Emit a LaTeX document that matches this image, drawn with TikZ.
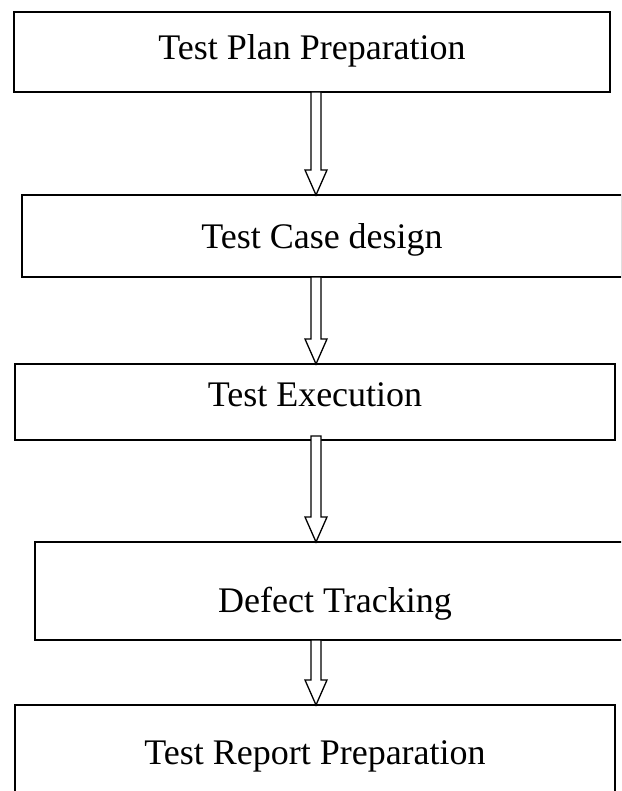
\documentclass[tikz,border=0pt]{standalone}
\usepackage{fontspec}
\setmainfont{Liberation Serif}
\usetikzlibrary{calc}

\tikzset{
	stagebox/.style={draw, line width=1.8pt, minimum width=600pt, inner sep=0pt, outer sep=0pt,
		text depth=0pt, font=\fontsize{36}{42}\selectfont},
	hollowarrow/.style={draw, line width=1.3pt, fill=white, line join=miter},
}

% hollow block arrow between two boxes, on the common axis
\newcommand{\blockarrow}[3][0]{%
	\draw[hollowarrow] ($(#2.south -| axis)+(-5,#1)$) -- ($(#3.north -| axis)+(-5,-25)$) -- ++(-6,0)
		-- (#3.north -| axis) -- ++(11,-25) -- ++(-6,0) -- ($(#2.south -| axis)+(5,#1)$) -- cycle;}

\begin{document}
\begin{tikzpicture}[x=1pt, y=-1pt]

	\useasboundingbox (0,0) rectangle (621,791);
	\clip (0,0) rectangle (621,791);

	\coordinate (axis) at (316,0);

	\node[stagebox, minimum width=596pt, minimum height=80pt, text height=16pt] (plan) at (312,52) {Test Plan Preparation};
	\node[stagebox, minimum height=82pt, text height=26pt] (design) at (322,236) {Test Case design};
	\node[stagebox, minimum height=76pt, text height=8pt] (exec) at (315,402) {Test Execution};
	\node[stagebox, minimum height=98pt, text height=42pt] (defect) at (335,591) {Defect Tracking};
	\node[stagebox, minimum height=94pt, text height=24pt] (report) at (315,752) {Test Report Preparation};

	\blockarrow{plan}{design}
	\blockarrow{design}{exec}
	\blockarrow[-4]{exec}{defect}
	\blockarrow{defect}{report}

\end{tikzpicture}
\end{document}
